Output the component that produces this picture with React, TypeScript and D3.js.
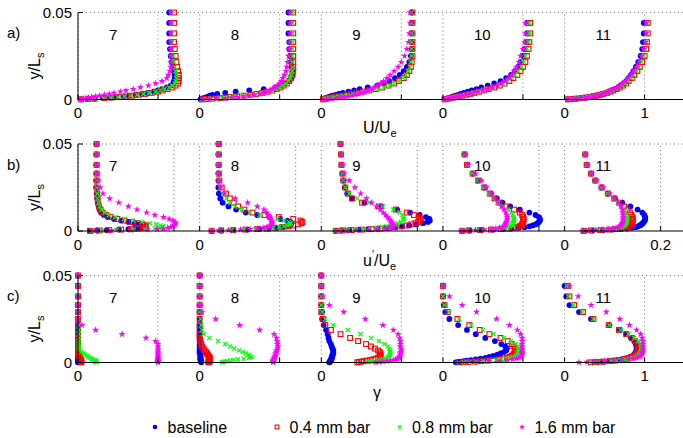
import React from "react";
import * as d3 from "d3";

const W = 683;
const H = 438;
const FONT = "'Liberation Sans', Arial, Helvetica, sans-serif";

const stations = [7, 8, 9, 10, 11];
const yGrid = [0.05, 0.044, 0.038, 0.033, 0.029, 0.025, 0.0215, 0.0187, 0.0163, 0.0141, 0.0123, 0.0106, 0.0092, 0.008, 0.0069, 0.006, 0.0052, 0.0045, 0.0038, 0.0032, 0.0027, 0.0022, 0.0018, 0.0014, 0.0011, 0.0008, 0.0005, 0.0003, 0.0001];
const seriesLabels = ["baseline", "0.4 mm bar", "0.8 mm bar", "1.6 mm bar"];
const seriesColors = ["#0000ff", "#ff0000", "#00ff00", "#ff00ff"];
const seriesMarkers = ["circle", "square", "cross", "star"];
const yTicks = [0, 0.05];
const yTickLabels = ["0", "0.05"];

// ---- panel a: U/Ue ----
const uBaseline = [
  [1.14,1.14,1.14,1.14,1.15,1.16,1.17,1.19,1.20,1.21,1.21,1.20,1.19,1.16,1.11,1.05,1.00,0.95,0.87,0.80,0.72,0.64,0.57,0.48,0.40,0.31,0.20,0.12,0.04],
  [1.11,1.11,1.11,1.12,1.12,1.13,1.14,1.15,1.16,1.16,1.15,1.12,1.06,1.01,0.95,0.80,0.62,0.45,0.32,0.22,0.16,0.13,0.11,0.09,0.07,0.05,0.03,0.02,0.01],
  [1.13,1.13,1.13,1.13,1.13,1.12,1.10,1.07,1.03,0.98,0.92,0.85,0.78,0.70,0.58,0.48,0.41,0.34,0.27,0.22,0.18,0.14,0.11,0.09,0.07,0.06,0.04,0.03,0.02],
  [null,1.05,1.05,1.04,1.02,1.00,0.97,0.94,0.90,0.85,0.79,0.72,0.64,0.56,0.48,0.42,0.36,0.31,0.26,0.22,0.19,0.16,0.13,0.11,0.09,0.07,0.05,0.03,0.02],
  [null,0.99,0.99,0.98,0.97,0.95,0.92,0.89,0.86,0.83,0.80,0.77,0.74,0.70,0.67,0.63,0.59,0.55,0.51,0.47,0.43,0.39,0.35,0.30,0.26,0.21,0.15,0.10,0.04],
];
const uBar04 = [
  [1.20,1.20,1.20,1.20,1.21,1.22,1.23,1.24,1.25,1.26,1.26,1.26,1.25,1.22,1.18,1.12,1.06,1.00,0.92,0.84,0.76,0.68,0.60,0.51,0.42,0.33,0.21,0.13,0.04],
  [1.17,1.17,1.17,1.17,1.17,1.17,1.17,1.17,1.17,1.16,1.14,1.12,1.09,1.05,1.01,0.96,0.91,0.85,0.78,0.71,0.63,0.55,0.47,0.39,0.32,0.25,0.16,0.09,0.03],
  [1.14,1.14,1.14,1.14,1.14,1.14,1.13,1.12,1.10,1.07,1.03,0.97,0.91,0.84,0.76,0.68,0.60,0.52,0.44,0.37,0.31,0.25,0.20,0.16,0.12,0.09,0.06,0.04,0.02],
  [null,1.09,1.09,1.08,1.07,1.05,1.03,1.00,0.97,0.93,0.88,0.83,0.77,0.71,0.64,0.57,0.51,0.45,0.39,0.34,0.29,0.24,0.20,0.16,0.13,0.10,0.07,0.04,0.02],
  [null,1.04,1.04,1.03,1.02,1.00,0.97,0.94,0.91,0.87,0.84,0.80,0.77,0.73,0.69,0.65,0.61,0.57,0.53,0.48,0.44,0.40,0.35,0.31,0.26,0.21,0.15,0.10,0.04],
];
const uBar08 = [
  [1.17,1.17,1.17,1.17,1.18,1.19,1.20,1.21,1.22,1.23,1.23,1.22,1.21,1.18,1.14,1.08,1.03,0.97,0.89,0.82,0.74,0.66,0.58,0.50,0.41,0.32,0.21,0.12,0.04],
  [1.16,1.16,1.16,1.16,1.16,1.16,1.16,1.16,1.16,1.15,1.13,1.11,1.08,1.04,1.00,0.95,0.90,0.84,0.77,0.70,0.62,0.54,0.46,0.38,0.31,0.24,0.15,0.09,0.03],
  [1.13,1.13,1.13,1.13,1.13,1.13,1.12,1.11,1.09,1.06,1.02,0.97,0.91,0.85,0.78,0.71,0.63,0.55,0.47,0.40,0.33,0.27,0.22,0.17,0.13,0.10,0.06,0.04,0.02],
  [null,1.08,1.08,1.07,1.05,1.03,1.01,0.98,0.94,0.90,0.86,0.81,0.75,0.69,0.63,0.56,0.50,0.44,0.38,0.33,0.28,0.24,0.20,0.16,0.13,0.10,0.07,0.04,0.02],
  [null,1.03,1.03,1.02,1.01,0.99,0.96,0.93,0.90,0.86,0.83,0.79,0.76,0.72,0.68,0.64,0.60,0.56,0.52,0.47,0.43,0.39,0.34,0.30,0.25,0.20,0.15,0.10,0.04],
];
const uBar16 = [
  [1.16,1.16,1.16,1.16,1.16,1.16,1.16,1.16,1.15,1.13,1.11,1.05,0.97,0.88,0.78,0.69,0.60,0.53,0.45,0.39,0.33,0.27,0.22,0.17,0.13,0.10,0.07,0.05,0.02],
  [1.13,1.13,1.13,1.12,1.12,1.11,1.10,1.09,1.08,1.06,1.04,1.02,1.00,0.97,0.94,0.91,0.88,0.84,0.80,0.75,0.68,0.62,0.55,0.47,0.40,0.32,0.21,0.12,0.04],
  [1.11,1.11,1.10,1.09,1.07,1.04,1.00,0.96,0.91,0.86,0.82,0.78,0.74,0.70,0.66,0.62,0.58,0.54,0.50,0.46,0.42,0.38,0.33,0.28,0.23,0.18,0.12,0.07,0.03],
  [null,1.03,1.03,1.02,1.00,0.97,0.95,0.92,0.89,0.86,0.82,0.78,0.73,0.68,0.62,0.56,0.50,0.44,0.39,0.34,0.29,0.24,0.20,0.16,0.13,0.10,0.07,0.04,0.02],
  [null,1.02,1.02,1.01,0.99,0.96,0.93,0.90,0.86,0.83,0.79,0.76,0.72,0.69,0.66,0.62,0.58,0.55,0.51,0.47,0.43,0.39,0.35,0.30,0.26,0.21,0.15,0.10,0.04],
];

// ---- panel b: u'/Ue ----
const rmsBaseline = [
  [0.038,0.038,0.038,0.038,0.038,0.038,0.039,0.040,0.041,0.043,0.045,0.048,0.054,0.062,0.075,0.090,0.105,0.118,0.128,0.134,0.137,0.135,0.130,0.120,0.105,0.085,0.060,0.040,0.025],
  [0.039,0.039,0.039,0.039,0.039,0.039,0.040,0.043,0.048,0.060,0.076,0.096,0.120,0.145,0.168,0.182,0.189,0.191,0.190,0.186,0.180,0.172,0.160,0.145,0.125,0.100,0.070,0.045,0.025],
  [0.040,0.041,0.042,0.044,0.046,0.049,0.054,0.064,0.090,0.125,0.158,0.185,0.205,0.218,0.225,0.226,0.222,0.212,0.198,0.183,0.168,0.152,0.135,0.117,0.098,0.078,0.058,0.042,0.030],
  [null,0.045,0.050,0.062,0.073,0.087,0.100,0.112,0.124,0.140,0.160,0.180,0.193,0.200,0.202,0.202,0.200,0.197,0.193,0.187,0.180,0.170,0.158,0.142,0.125,0.105,0.080,0.055,0.040],
  [null,0.043,0.046,0.055,0.064,0.077,0.090,0.105,0.120,0.137,0.152,0.162,0.166,0.168,0.168,0.167,0.165,0.163,0.160,0.157,0.153,0.148,0.140,0.130,0.117,0.100,0.080,0.058,0.040],
];
const rmsBar04 = [
  [0.039,0.039,0.039,0.039,0.039,0.039,0.040,0.041,0.042,0.044,0.047,0.051,0.058,0.068,0.082,0.097,0.112,0.125,0.135,0.140,0.142,0.140,0.135,0.125,0.110,0.090,0.065,0.045,0.025],
  [0.040,0.040,0.040,0.040,0.041,0.046,0.055,0.063,0.071,0.080,0.093,0.110,0.135,0.165,0.195,0.210,0.214,0.212,0.205,0.195,0.185,0.172,0.158,0.140,0.120,0.095,0.070,0.045,0.025],
  [0.040,0.041,0.042,0.044,0.046,0.050,0.056,0.064,0.085,0.120,0.155,0.178,0.193,0.203,0.207,0.206,0.202,0.196,0.188,0.178,0.167,0.154,0.140,0.123,0.105,0.085,0.063,0.045,0.030],
  [null,0.045,0.050,0.062,0.073,0.086,0.098,0.108,0.118,0.132,0.148,0.160,0.165,0.167,0.168,0.168,0.167,0.166,0.165,0.163,0.160,0.155,0.147,0.135,0.120,0.100,0.077,0.055,0.040],
  [null,0.043,0.046,0.055,0.064,0.077,0.090,0.103,0.114,0.124,0.131,0.136,0.139,0.141,0.142,0.142,0.141,0.140,0.139,0.137,0.135,0.131,0.125,0.117,0.106,0.092,0.075,0.055,0.040],
];
const rmsBar08 = [
  [0.039,0.039,0.039,0.039,0.039,0.039,0.040,0.041,0.043,0.045,0.049,0.055,0.064,0.078,0.096,0.115,0.133,0.150,0.163,0.172,0.177,0.176,0.170,0.160,0.140,0.115,0.080,0.050,0.030],
  [0.039,0.039,0.039,0.039,0.040,0.043,0.050,0.056,0.064,0.074,0.088,0.105,0.125,0.145,0.162,0.176,0.186,0.190,0.188,0.183,0.176,0.166,0.153,0.136,0.116,0.092,0.066,0.043,0.025],
  [0.040,0.041,0.042,0.044,0.046,0.050,0.058,0.075,0.100,0.128,0.150,0.163,0.169,0.172,0.172,0.170,0.166,0.160,0.153,0.145,0.136,0.126,0.115,0.102,0.088,0.072,0.055,0.040,0.030],
  [null,0.045,0.050,0.061,0.071,0.083,0.095,0.104,0.113,0.124,0.136,0.143,0.146,0.147,0.148,0.148,0.147,0.146,0.145,0.143,0.140,0.135,0.128,0.118,0.105,0.088,0.070,0.050,0.038],
  [null,0.043,0.046,0.055,0.064,0.076,0.089,0.101,0.111,0.119,0.124,0.127,0.129,0.130,0.130,0.130,0.129,0.128,0.127,0.125,0.123,0.120,0.115,0.108,0.098,0.086,0.070,0.052,0.038],
];
const rmsBar16 = [
  [0.039,0.039,0.040,0.041,0.043,0.046,0.052,0.066,0.085,0.105,0.123,0.143,0.160,0.178,0.190,0.198,0.202,0.203,0.202,0.200,0.197,0.193,0.187,0.178,0.165,0.145,0.110,0.070,0.035],
  [0.039,0.039,0.039,0.040,0.041,0.044,0.052,0.074,0.100,0.120,0.134,0.140,0.143,0.146,0.148,0.150,0.151,0.151,0.150,0.148,0.145,0.140,0.132,0.120,0.105,0.085,0.060,0.040,0.025],
  [0.040,0.042,0.044,0.048,0.058,0.070,0.082,0.094,0.105,0.115,0.123,0.129,0.134,0.138,0.141,0.144,0.146,0.148,0.149,0.150,0.150,0.148,0.143,0.133,0.118,0.098,0.072,0.050,0.035],
  [null,0.047,0.053,0.068,0.080,0.090,0.100,0.108,0.115,0.122,0.127,0.131,0.133,0.134,0.134,0.133,0.132,0.131,0.130,0.129,0.127,0.124,0.118,0.110,0.100,0.085,0.068,0.050,0.038],
  [null,0.044,0.048,0.057,0.067,0.080,0.094,0.104,0.112,0.117,0.120,0.121,0.122,0.122,0.122,0.122,0.121,0.120,0.119,0.117,0.115,0.112,0.107,0.100,0.091,0.080,0.065,0.050,0.037],
];

// ---- panel c: intermittency gamma ----
const gBaseline = [
  [0,0,0,0,0,0,0,0,0,0,0,0,0,0,0,0,0,0,0,0,0,0,0,0,0,0,0,0,0],
  [0,0,0,0,0,0,0,0,0,0,0,0,0,0,0,0,0,0.01,0.01,0.01,0.01,0.01,0.01,0.01,0.02,0.02,0.02,0.02,0.02],
  [0,0,0,0,0.01,0.01,0.03,0.06,0.08,0.09,0.10,0.12,0.13,0.14,0.15,0.15,0.15,0.14,0.14,0.13,0.13,0.13,0.12,0.12,0.12,0.11,0.11,0.10,0.10],
  [null,0,0,0.01,0.03,0.08,0.19,0.30,0.41,0.53,0.65,0.73,0.78,0.80,0.79,0.76,0.72,0.68,0.63,0.58,0.53,0.47,0.41,0.35,0.30,0.26,0.22,0.19,0.16],
  [null,0,0.02,0.06,0.18,0.33,0.56,0.69,0.77,0.83,0.87,0.89,0.90,0.90,0.90,0.89,0.88,0.87,0.85,0.82,0.79,0.75,0.71,0.66,0.61,0.55,0.48,0.42,0.36],
];
const gBar04 = [
  [0,0,0,0,0,0,0,0,0,0,0,0,0,0,0,0,0,0.01,0.01,0.02,0.02,0.03,0.03,0.03,0.04,0.04,0.04,0.04,0.04],
  [0,0,0,0,0,0,0,0,0,0,0.01,0.02,0.03,0.05,0.06,0.08,0.09,0.10,0.11,0.12,0.12,0.13,0.13,0.13,0.13,0.12,0.12,0.11,0.11],
  [0,0,0,0,0,0.02,0.05,0.12,0.24,0.36,0.46,0.56,0.62,0.67,0.71,0.73,0.74,0.74,0.74,0.73,0.71,0.68,0.65,0.61,0.57,0.53,0.50,0.47,0.45],
  [null,0,0,0.02,0.06,0.18,0.33,0.46,0.58,0.72,0.81,0.86,0.88,0.90,0.90,0.90,0.89,0.88,0.86,0.83,0.80,0.75,0.70,0.63,0.56,0.48,0.40,0.32,0.25],
  [null,0.04,0.06,0.12,0.23,0.36,0.55,0.68,0.77,0.84,0.88,0.91,0.92,0.92,0.92,0.91,0.90,0.89,0.87,0.85,0.82,0.78,0.74,0.69,0.63,0.56,0.48,0.40,0.33],
];
const gBar08 = [
  [0,0,0,0,0,0,0.01,0.01,0.01,0.01,0.01,0.01,0.01,0.01,0.02,0.04,0.07,0.09,0.11,0.13,0.15,0.17,0.18,0.20,0.21,0.22,0.22,0.23,0.23],
  [0,0,0,0,0,0.01,0.02,0.03,0.05,0.12,0.23,0.32,0.38,0.43,0.49,0.54,0.58,0.61,0.63,0.65,0.62,0.55,0.48,0.42,0.38,0.34,0.31,0.29,0.28],
  [0,0,0,0,0.01,0.05,0.15,0.33,0.49,0.62,0.72,0.79,0.83,0.85,0.86,0.86,0.86,0.86,0.85,0.84,0.82,0.80,0.77,0.73,0.70,0.66,0.63,0.60,0.58],
  [null,0,0,0.02,0.07,0.20,0.35,0.50,0.63,0.76,0.85,0.91,0.94,0.95,0.95,0.95,0.94,0.93,0.91,0.88,0.84,0.79,0.73,0.66,0.58,0.50,0.41,0.33,0.26],
  [null,0.03,0.05,0.11,0.22,0.36,0.56,0.70,0.80,0.87,0.92,0.95,0.96,0.96,0.96,0.95,0.94,0.93,0.91,0.88,0.85,0.81,0.76,0.71,0.65,0.58,0.50,0.42,0.35],
];
const gBar16 = [
  [0,0,0,0,0,0,0.05,0.22,0.55,0.85,0.97,1,1,1,1,1,1,1,1,1,1,1,1,1,1,1,1,1,1],
  [0,0,0,0,0.03,0.20,0.50,0.75,0.93,0.96,0.97,0.97,0.98,0.97,0.96,0.96,0.95,0.95,0.94,0.94,0.93,0.93,0.93,0.92,0.92,0.92,0.92,0.92,0.92],
  [0,0,0.02,0.10,0.28,0.55,0.77,0.90,0.96,0.98,0.99,0.99,0.99,1.00,1.00,0.99,0.99,0.99,0.98,0.98,0.97,0.95,0.93,0.90,0.86,0.82,0.77,0.72,0.68],
  [null,0.01,0.08,0.24,0.42,0.67,0.83,0.93,0.97,0.99,0.99,0.99,0.99,0.99,0.99,0.99,0.99,0.99,0.98,0.97,0.95,0.92,0.87,0.80,0.70,0.57,0.43,0.30,0.18],
  [null,0.06,0.17,0.33,0.52,0.69,0.81,0.90,0.95,0.97,0.98,0.98,0.98,0.98,0.98,0.97,0.97,0.96,0.95,0.93,0.90,0.86,0.80,0.72,0.62,0.50,0.38,0.28,0.18],
];

type Panel = {
  tag: string;
  top: number;
  bottom: number;
  tickVal: number;
  tickPx: number;
  tickText: string;
  data: (number | null)[][][];
};

const panels: Panel[] = [
  { tag: "a)", top: 12.5, bottom: 99.5, tickVal: 1, tickPx: 80, tickText: "1", data: [uBaseline, uBar04, uBar08, uBar16] },
  { tag: "b)", top: 144, bottom: 231, tickVal: 0.2, tickPx: 96, tickText: "0.2", data: [rmsBaseline, rmsBar04, rmsBar08, rmsBar16] },
  { tag: "c)", top: 275.5, bottom: 362.5, tickVal: 1, tickPx: 80, tickText: "1", data: [gBaseline, gBar04, gBar08, gBar16] },
];

const zeroScale = d3.scaleLinear().domain([7, 11]).range([78, 564.6]);
const X_LEFT = 78;
const X_RIGHT = 683;

const starPath = d3.symbol().type(d3.symbolStar).size(16)() as string;
const starPathLegend = d3.symbol().type(d3.symbolStar).size(10)() as string;

function Marker({ kind, x, y, color, legend }: { kind: string; x: number; y: number; color: string; legend?: boolean }) {
  if (kind === "circle") return <circle cx={x} cy={y} r={legend ? 2.3 : 2.9} fill={color} />;
  if (kind === "square") {
    const s = legend ? 3.8 : 4.8;
    return <rect x={x - s / 2} y={y - s / 2} width={s} height={s} fill="none" stroke={color} strokeWidth={1.1} />;
  }
  if (kind === "cross") {
    const h = legend ? 1.5 : 2.1;
    return (
      <path d={`M${x - h},${y - h}L${x + h},${y + h}M${x - h},${y + h}L${x + h},${y - h}`} stroke={color} strokeWidth={1.2} fill="none" />
    );
  }
  return <path d={legend ? starPathLegend : starPath} transform={`translate(${x},${y})`} fill={color} />;
}

function PanelView({ p }: { p: Panel }) {
  const yScale = d3.scaleLinear().domain([0, 0.05]).range([p.bottom, p.top]);
  const vScale = d3.scaleLinear().domain([0, p.tickVal]).range([0, p.tickPx]);
  const gridXs: number[] = [];
  stations.forEach((s) => {
    gridXs.push(zeroScale(s));
    gridXs.push(zeroScale(s) + vScale(p.tickVal));
  });
  const labelY = p.bottom + 18.5;
  return (
    <g>
      <line x1={X_LEFT} x2={X_RIGHT} y1={yScale(0.05)} y2={yScale(0.05)} stroke="#777" strokeDasharray="1,3" />
      {gridXs.map((gx, i) => (
        <line key={i} x1={gx} x2={gx} y1={p.bottom} y2={p.top} stroke="#777" strokeDasharray="1,3" />
      ))}
      {p.data.map((series, si) =>
        series.map((prof, st) =>
          prof.map((v, i) => {
            if (v === null || v === undefined || i >= yGrid.length) return null;
            const x = zeroScale(stations[st]) + vScale(v);
            const y = yScale(yGrid[i]);
            return <Marker key={`${si}-${st}-${i}`} kind={seriesMarkers[si]} x={x} y={y} color={seriesColors[si]} />;
          })
        )
      )}
      <line x1={X_LEFT} x2={X_LEFT} y1={p.top} y2={p.bottom} stroke="#000" strokeWidth={1} />
      <line x1={X_LEFT} x2={X_RIGHT} y1={p.bottom} y2={p.bottom} stroke="#000" strokeWidth={1} />
      {yTicks.map((t, i) => (
        <g key={i}>
          <line x1={X_LEFT} x2={X_LEFT + 5} y1={yScale(t)} y2={yScale(t)} stroke="#000" />
          <text x={72} y={yScale(t) + 5.3} textAnchor="end" fontSize={15}>
            {yTickLabels[i]}
          </text>
        </g>
      ))}
      {gridXs.map((gx, i) => (
        <line key={i} x1={gx} x2={gx} y1={p.bottom} y2={p.bottom - 5} stroke="#000" />
      ))}
      {stations.map((s) => (
        <text key={s} x={zeroScale(s)} y={labelY} textAnchor="middle" fontSize={15}>
          0
        </text>
      ))}
      <text x={zeroScale(11) + vScale(p.tickVal)} y={labelY} textAnchor="middle" fontSize={15}>
        {p.tickText}
      </text>
      {stations.map((s) => (
        <text key={s} x={zeroScale(s) + 31} y={p.top + 27} fontSize={15}>
          {String(s)}
        </text>
      ))}
      <text x={7} y={p.top + 25.5} fontSize={15}>
        {p.tag}
      </text>
      <text transform={`translate(40,${(p.top + p.bottom) / 2 + 10}) rotate(-90)`} fontSize={16} textAnchor="middle">
        y/L<tspan fontSize={11} dy={4}>s</tspan>
      </text>
    </g>
  );
}

const legendX = [155, 277, 399.5, 522];

export default function App() {
  return (
    <div style={{ position: "fixed", left: 0, top: 0, width: W, height: H, background: "#fff" }}>
      <svg width={W} height={H} viewBox={`0 0 ${W} ${H}`} style={{ display: "block", fontFamily: FONT }}>
        <rect x={0} y={0} width={W} height={H} fill="#fff" />
        {panels.map((p) => (
          <PanelView key={p.tag} p={p} />
        ))}
        <text x={363} y={133} fontSize={16}>
          U/U<tspan fontSize={11} dy={4}>e</tspan>
        </text>
        <text x={363} y={266} fontSize={16}>
          u<tspan fontSize={11} dy={-8}>′</tspan>
          <tspan fontSize={16} dy={8}>/U</tspan>
          <tspan fontSize={11} dy={4}>e</tspan>
        </text>
        <text x={377} y={398} fontSize={16} textAnchor="middle">
          γ
        </text>
        {seriesLabels.map((lab, i) => (
          <g key={lab}>
            <Marker kind={seriesMarkers[i]} x={legendX[i]} y={427} color={seriesColors[i]} legend />
            <text x={legendX[i] + 12.5} y={433} fontSize={16}>
              {lab}
            </text>
          </g>
        ))}
      </svg>
    </div>
  );
}
